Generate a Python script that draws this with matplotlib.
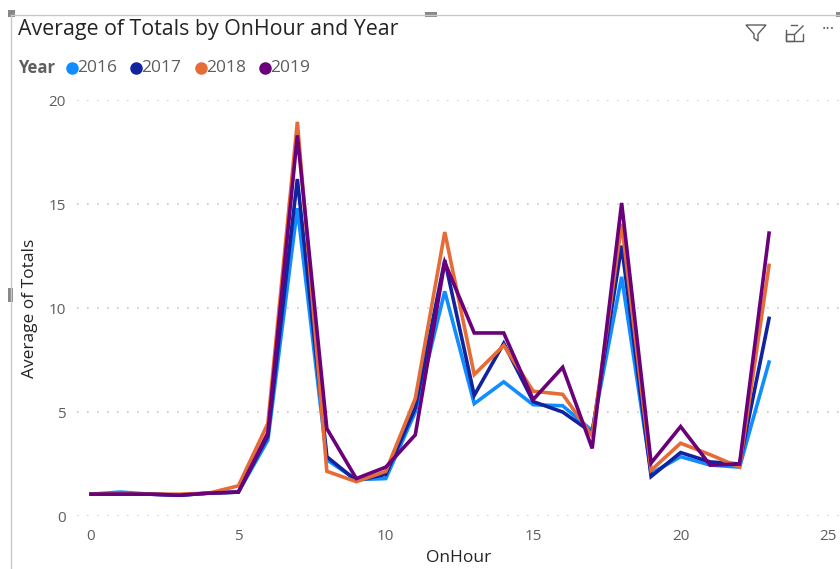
import matplotlib.pyplot as plt
from matplotlib.lines import Line2D
from matplotlib.patches import Rectangle, Polygon

plt.rcParams["font.family"] = ["Open Sans", "DejaVu Sans"]

hours = list(range(24))
years = ["2016", "2017", "2018", "2019"]
colors = ["#118DFF", "#12239E", "#E66C37", "#6B007B"]

avg_2016 = [1.05, 1.15, 1.05, 1.0, 1.1, 1.15, 3.65, 14.8, 2.7, 1.75, 1.8, 5.0,
            10.8, 5.4, 6.45, 5.35, 5.3, 4.1, 11.5, 2.05, 2.85, 2.45, 2.35, 7.4]
avg_2017 = [1.05, 1.05, 1.05, 1.0, 1.1, 1.15, 3.85, 16.2, 2.85, 1.7, 2.0, 5.2,
            12.3, 5.8, 8.3, 5.5, 5.0, 4.0, 13.0, 1.9, 3.05, 2.6, 2.5, 9.5]
avg_2018 = [1.05, 1.05, 1.05, 1.05, 1.1, 1.45, 4.45, 18.95, 2.15, 1.65, 2.15, 5.65,
            13.65, 6.8, 8.2, 6.0, 5.85, 3.85, 14.05, 2.2, 3.5, 2.95, 2.35, 12.05]
avg_2019 = [1.05, 1.05, 1.05, 1.0, 1.1, 1.15, 4.0, 18.3, 4.2, 1.8, 2.35, 3.9,
            12.2, 8.8, 8.8, 5.6, 7.15, 3.25, 15.05, 2.55, 4.3, 2.45, 2.5, 13.6]
series = [avg_2016, avg_2017, avg_2018, avg_2019]

y_ticks = [0, 5, 10, 15, 20]
x_ticks = [0, 5, 10, 15, 20, 25]

fig = plt.figure(figsize=(8.4, 5.69), dpi=100)
ax = fig.add_axes([77 / 840, 1 - 516 / 569, 763 / 840, 416 / 569])

for vals, c in zip(series, colors):
    ax.plot(hours, vals, color=c, lw=2.6, solid_joinstyle="miter", zorder=3)

ax.set_xlim((77 - 91) / 29.48, (840 - 91) / 29.48)
ax.set_ylim(0, 20)
ax.set_yticks(y_ticks)
ax.set_xticks(x_ticks)
ax.yaxis.grid(True, color="#C8C8C8", linestyle=(0, (1, 5)), lw=1.2)
ax.xaxis.grid(False)
for s in ax.spines.values():
    s.set_visible(False)
ax.tick_params(length=0, colors="#605E5C", labelsize=11)
ax.tick_params(axis="y", pad=8)
ax.tick_params(axis="x", pad=9)
ax.set_ylabel("Average of Totals", fontsize=12.5, color="#252423")
ax.yaxis.set_label_coords(-0.051, 0.5)
ax.set_xlabel("OnHour", fontsize=12.5, color="#252423", labelpad=5)

# visual frame and handles
fig.add_artist(Line2D([11 / 840, 11 / 840], [0, 1 - 15 / 569], color="#C8C8C8", lw=1))
fig.add_artist(Line2D([11 / 840, 1], [1 - 15 / 569, 1 - 15 / 569], color="#C8C8C8", lw=1))
for (hx, hy, w, h) in [(8, 10, 7, 7), (425, 12, 12, 5), (8, 288, 5, 14), (836, 12, 4, 5)]:
    fig.add_artist(Rectangle((hx / 840, 1 - (hy + h) / 569), w / 840, h / 569,
                             color="#8A8886", lw=0))

fig.text(18 / 840, 1 - 29 / 569, "Average of Totals by OnHour and Year",
         fontsize=15.4, color="#252423", va="center", ha="left")

# legend row
fig.text(18 / 840, 1 - 68 / 569, "Year", fontsize=12, fontweight="bold",
         color="#605E5C", va="center", ha="left")
leg_x = [72, 136, 201, 265]
for lx, c, yr in zip(leg_x, colors, years):
    fig.add_artist(Line2D([lx / 840], [1 - 68 / 569], marker="o", markersize=8,
                          color=c, lw=0))
    fig.text((lx + 5) / 840, 1 - 68 / 569, yr, fontsize=12.5, color="#605E5C",
             va="center", ha="left")

# header icons
fig.add_artist(Polygon([(746 / 840, 1 - 25 / 569), (766 / 840, 1 - 25 / 569),
                        (758 / 840, 1 - 34 / 569), (758 / 840, 1 - 41 / 569),
                        (754 / 840, 1 - 38 / 569), (754 / 840, 1 - 34 / 569)],
                       closed=True, fill=False, ec="#605E5C", lw=1))
fig.add_artist(Line2D([786 / 840, 786 / 840, 803 / 840, 803 / 840],
                      [1 - 30 / 569, 1 - 41 / 569, 1 - 41 / 569, 1 - 34 / 569],
                      color="#605E5C", lw=1))
fig.add_artist(Line2D([791 / 840, 797 / 840], [1 - 25 / 569, 1 - 25 / 569],
                      color="#605E5C", lw=1))
fig.add_artist(Line2D([795 / 840, 803 / 840], [1 - 34 / 569, 1 - 26 / 569],
                      color="#605E5C", lw=1))
fig.add_artist(Rectangle((786 / 840, 1 - 41 / 569), 8 / 840, 7 / 569,
                         fill=False, ec="#605E5C", lw=1))
fig.text(822 / 840, 1 - 30 / 569, "···", fontsize=12, color="#605E5C",
         va="center", ha="left")

fig.savefig("out.png", dpi=100)
